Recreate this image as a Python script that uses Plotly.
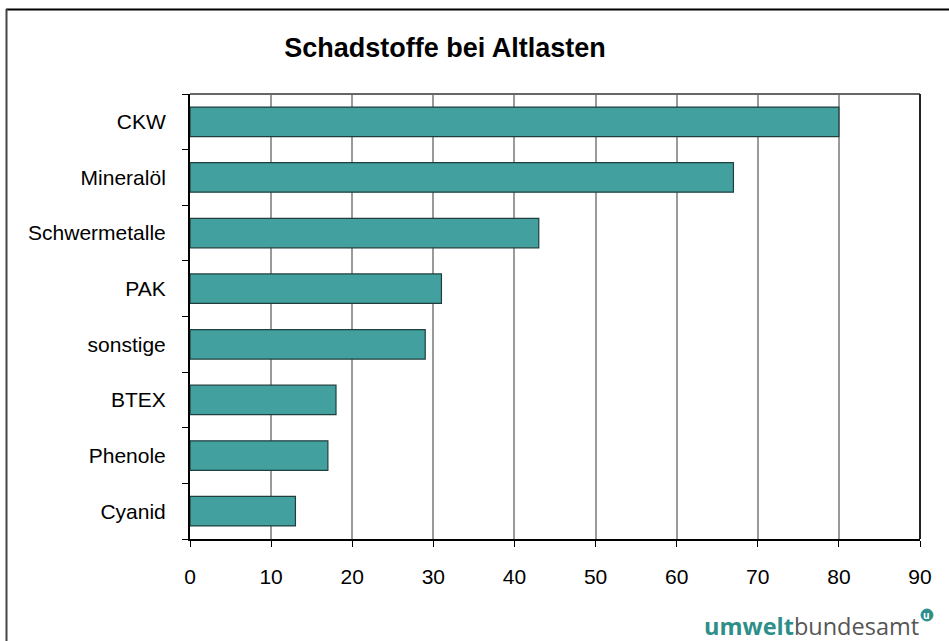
import plotly.graph_objects as go

categories = ["CKW", "Mineralöl", "Schwermetalle", "PAK", "sonstige", "BTEX", "Phenole", "Cyanid"]
values = [80, 67, 43, 31, 29, 18, 17, 13]
x_ticks = [0, 10, 20, 30, 40, 50, 60, 70, 80, 90]

W, H = 949, 641
L, R, T, B = 190, 920, 94, 539

def px(x):
    return (x - L) / (R - L)

def py(y):
    return (B - y) / (B - T)

FONT = "Liberation Sans, Arial, sans-serif"
TEAL = "#2E8F8A"

fig = go.Figure()
fig.add_trace(go.Bar(
    y=categories[::-1], x=values[::-1], orientation="h",
    marker=dict(color="#42A09E", line=dict(color="#1F3F3E", width=1.2)),
    hoverinfo="x+y",
))

fig.update_layout(
    width=W, height=H,
    margin=dict(l=L, r=W - R, t=T, b=H - B, pad=0),
    paper_bgcolor="white", plot_bgcolor="white",
    bargap=0.47,
    showlegend=False,
    font=dict(family=FONT, size=21, color="black"),
    title=dict(text="<b>Schadstoffe bei Altlasten</b>", x=445 / W, xanchor="center",
               y=1 - 48 / H, yanchor="middle",
               font=dict(size=27, color="black", family=FONT)),
    xaxis=dict(range=[0, 90], tickvals=x_ticks, showgrid=True, gridcolor="#9A9A9A", gridwidth=1.5,
               zeroline=False, showline=True, linecolor="black", linewidth=2, mirror=False,
               ticks="outside", ticklen=6, tickcolor="black", tickwidth=1,
               ticklabelstandoff=12, fixedrange=True),
    yaxis=dict(type="category", categoryorder="array", categoryarray=categories[::-1],
               showgrid=False, zeroline=False, showline=True, linecolor="black", linewidth=2,
               ticks="outside", ticklen=6, tickcolor="black", tickwidth=1, tickson="boundaries",
               ticklabelstandoff=18, fixedrange=True),
)

# plot frame top/right
fig.add_shape(type="line", xref="paper", yref="paper", x0=0, x1=1, y0=1, y1=1,
              line=dict(color="#666666", width=2))
fig.add_shape(type="line", xref="paper", yref="paper", x0=1, x1=1, y0=0, y1=1,
              line=dict(color="#222222", width=2))

# outer border (top and left visible)
fig.add_shape(type="line", xref="paper", yref="paper", x0=px(6), x1=px(949), y0=py(9.5), y1=py(9.5),
              line=dict(color="black", width=2))
fig.add_shape(type="line", xref="paper", yref="paper", x0=px(6.5), x1=px(6.5), y0=py(9), y1=py(641),
              line=dict(color="#444444", width=2))

# logo
fig.add_annotation(xref="paper", yref="paper", x=px(921), y=py(626), xanchor="right", yanchor="middle",
                   showarrow=False,
                   text="<b><span style='color:#2E8F8A'>umwelt</span></b><span style='color:#555555'>bundesamt</span>",
                   font=dict(size=23.5, family="Open Sans, Noto Sans, sans-serif"))
fig.add_shape(type="circle", xref="paper", yref="paper",
              x0=px(921), x1=px(933), y0=py(609), y1=py(621),
              fillcolor=TEAL, line=dict(color=TEAL, width=1))
fig.add_annotation(xref="paper", yref="paper", x=px(927), y=py(614.5), xanchor="center", yanchor="middle",
                   showarrow=False, text="<b>u</b>",
                   font=dict(size=10, color="white", family="Open Sans, sans-serif"))

fig.write_html("out.html", config={"displayModeBar": False},
               post_script="document.body.style.margin='0';")
